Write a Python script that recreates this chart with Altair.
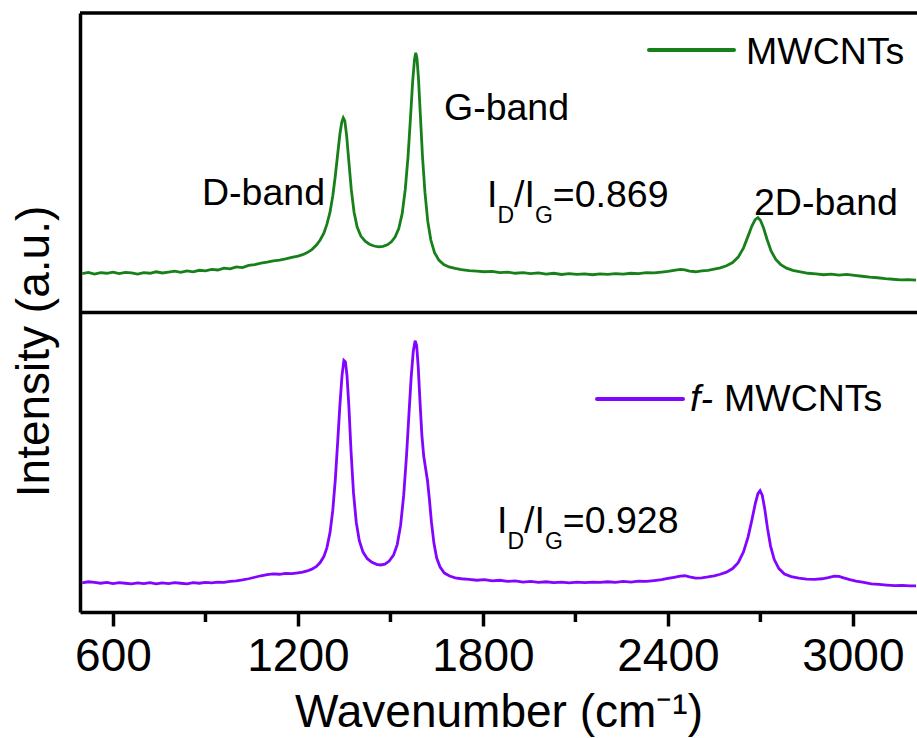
import altair as alt
import pandas as pd

FONT = "Liberation Sans"
GREEN = "#17801a"
PURPLE = "#8205ff"

# ---- data: Raman spectra (wavenumber, intensity in a.u., each panel 0..1) ----
top_wn = [500, 520, 540, 560, 580, 600, 620, 640, 660, 680,
          700, 720, 740, 760, 780, 800, 820, 840, 860, 880,
          900, 920, 940, 960, 980, 1000, 1020, 1040, 1060, 1080,
          1100, 1120, 1140, 1160, 1180, 1200, 1215, 1230, 1245, 1260,
          1272, 1284, 1294, 1304, 1313, 1321, 1329, 1336, 1342, 1347,
          1352, 1358, 1365, 1373, 1382, 1392, 1404, 1418, 1432, 1447,
          1462, 1476, 1490, 1503, 1515, 1527, 1538, 1548, 1557, 1565,
          1572, 1578, 1582, 1586, 1591, 1597, 1604, 1612, 1621, 1631,
          1643, 1657, 1673, 1690, 1710, 1730, 1755, 1780, 1805, 1830,
          1855, 1880, 1905, 1930, 1955, 1980, 2005, 2030, 2055, 2080,
          2105, 2130, 2155, 2180, 2205, 2230, 2255, 2280, 2305, 2330,
          2355, 2380, 2400, 2420, 2440, 2455, 2470, 2490, 2510, 2530,
          2550, 2570, 2590, 2610, 2628, 2645, 2660, 2672, 2683, 2692,
          2700, 2710, 2722, 2735, 2750, 2766, 2785, 2805, 2830, 2855,
          2880, 2905, 2930, 2955, 2980, 3005, 3030, 3055, 3080, 3105,
          3130, 3155, 3180, 3205]
top_int = [.130, .134, .128, .133, .131, .135, .130, .134, .132, .128,
           .133, .131, .136, .132, .135, .138, .134, .139, .136, .141,
           .139, .144, .142, .148, .146, .152, .150, .157, .160, .165,
           .168, .172, .175, .179, .184, .188, .193, .200, .210, .225,
           .242, .265, .295, .335, .390, .455, .530, .595, .635, .650,
           .640, .590, .505, .410, .335, .285, .255, .238, .228, .222,
           .219, .221, .226, .236, .252, .280, .330, .410, .520, .650,
           .770, .845, .867, .850, .780, .660, .520, .400, .305, .242,
           .200, .175, .160, .152, .147, .143, .140, .138, .136, .137,
           .133, .135, .131, .133, .130, .132, .128, .131, .127, .130,
           .127, .129, .126, .129, .127, .130, .128, .131, .130, .133,
           .132, .135, .137, .141, .144, .142, .138, .136, .139, .141,
           .145, .149, .156, .167, .185, .215, .255, .288, .310, .317,
           .308, .283, .243, .205, .177, .160, .148, .141, .136, .131,
           .129, .126, .128, .125, .127, .124, .121, .118, .116, .113,
           .111, .109, .110, .108]

bot_wn = [500, 520, 540, 560, 580, 600, 620, 640, 660, 680,
          700, 720, 740, 760, 780, 800, 820, 840, 860, 880,
          900, 920, 940, 960, 980, 1000, 1020, 1040, 1060, 1080,
          1100, 1120, 1140, 1160, 1180, 1200, 1215, 1230, 1245, 1260,
          1272, 1284, 1294, 1304, 1313, 1321, 1329, 1336, 1343, 1349,
          1354, 1359, 1365, 1372, 1380, 1389, 1399, 1411, 1425, 1440,
          1455, 1468, 1482, 1496, 1510, 1522, 1533, 1543, 1552, 1560,
          1567, 1574, 1580, 1585, 1590, 1596, 1602, 1608, 1614, 1620,
          1626, 1633, 1641, 1650, 1661, 1675, 1692, 1710, 1730, 1755,
          1780, 1805, 1830, 1855, 1880, 1905, 1930, 1955, 1980, 2005,
          2030, 2055, 2080, 2105, 2130, 2155, 2180, 2205, 2230, 2255,
          2280, 2305, 2330, 2355, 2380, 2400, 2420, 2440, 2455, 2470,
          2490, 2510, 2530, 2550, 2570, 2590, 2610, 2628, 2645, 2660,
          2672, 2683, 2692, 2699, 2706, 2714, 2723, 2733, 2745, 2760,
          2778, 2800, 2825, 2850, 2875, 2900, 2920, 2940, 2955, 2970,
          2990, 3010, 3035, 3060, 3085, 3110, 3135, 3160, 3185, 3205]
bot_int = [.097, .101, .099, .096, .099, .095, .098, .096, .094, .097,
           .095, .098, .094, .097, .095, .098, .096, .094, .098, .096,
           .099, .097, .100, .099, .102, .104, .107, .111, .116, .121,
           .125, .127, .126, .129, .128, .131, .133, .137, .143, .152,
           .165, .185, .215, .265, .340, .440, .570, .690, .790, .840,
           .835, .790, .690, .540, .400, .300, .238, .200, .178, .166,
           .159, .157, .160, .170, .190, .225, .290, .390, .520, .660,
           .780, .870, .906, .890, .820, .700, .590, .520, .480, .440,
           .380, .300, .230, .180, .150, .130, .120, .114, .111, .109,
           .106, .108, .104, .106, .102, .104, .100, .102, .099, .101,
           .098, .100, .097, .100, .098, .100, .099, .101, .099, .102,
           .100, .103, .102, .105, .108, .112, .116, .120, .121, .117,
           .113, .114, .117, .121, .126, .133, .145, .165, .200, .250,
           .305, .360, .395, .405, .390, .345, .280, .220, .175, .145,
           .127, .118, .113, .110, .109, .111, .115, .120, .119, .114,
           .108, .103, .099, .094, .092, .090, .088, .089, .087, .087]

major_ticks = [600, 1200, 1800, 2400, 3000]
minor_ticks = [900, 1500, 2100, 2700]

top_df = pd.DataFrame({"wn": top_wn, "inten": top_int})
bot_df = pd.DataFrame({"wn": bot_wn, "inten": bot_int})

# ---- layout (pixels) ----
PAD_L, PAD_T = 80, 13
W, H = 837, 599
FRAME = 3.5

xscale = alt.Scale(domain=[493, 3208], nice=False, zero=False)
yscale = alt.Scale(domain=[0, 2], nice=False, zero=False)

xaxis = alt.Axis(
    values=major_ticks, format="d", title="Wavenumber (cm⁻¹)", grid=False,
    domainColor="black", domainWidth=FRAME, tickColor="black", tickWidth=FRAME,
    tickSize=14, labelFont=FONT, labelFontSize=46, labelColor="black",
    labelPadding=8, labelFlush=False,
    titleFont=FONT, titleFontSize=46, titleFontWeight="normal", titleColor="black",
    titleBaseline="alphabetic", titleY=114,
)
yaxis = alt.Axis(
    title="Intensity (a.u.)", grid=False, ticks=False, labels=False,
    domainColor="black", domainWidth=FRAME,
    titleFont=FONT, titleFontSize=46, titleFontWeight="normal", titleColor="black",
    titleAngle=270, titleAlign="center", titleBaseline="middle",
    titleX=-46, titleY=338,
)

X = alt.X("wn:Q", scale=xscale, axis=xaxis)

top_line = alt.Chart(top_df).transform_calculate(
    y="datum.inten + 1"
).mark_line(color=GREEN, strokeWidth=2.8, clip=True).encode(
    x=X, y=alt.Y("y:Q", scale=yscale, axis=yaxis)
)
bot_line = alt.Chart(bot_df).transform_calculate(
    y="datum.inten"
).mark_line(color=PURPLE, strokeWidth=2.8, clip=True).encode(
    x=X, y=alt.Y("y:Q", scale=yscale, axis=yaxis)
)

# frame: top edge and divider between panels
frame_rules = alt.Chart(pd.DataFrame({"y": [2, 1]})).mark_rule(
    color="black", strokeWidth=FRAME
).encode(y=alt.Y("y:Q", scale=yscale, axis=yaxis))

# minor ticks
minor = alt.Chart(pd.DataFrame({"wn": minor_ticks})).mark_rule(
    color="black", strokeWidth=FRAME
).encode(x=X, y=alt.value(H), y2=alt.value(H + 10))


def txt(s, x, y, size=37.5, style="normal"):
    return alt.Chart(pd.DataFrame({"s": [s]})).mark_text(
        align="left", baseline="alphabetic", font=FONT, fontSize=size,
        fontStyle=style, color="black"
    ).encode(x=alt.value(x - PAD_L), y=alt.value(y - PAD_T), text="s:N")


def seg(x1, x2, y, color):
    return alt.Chart(pd.DataFrame({"a": [0]})).mark_rule(
        color=color, strokeWidth=4, strokeCap="round"
    ).encode(x=alt.value(x1 - PAD_L), x2=alt.value(x2 - PAD_L), y=alt.value(y - PAD_T))


def ratio(x0, base, value, sub=23):
    sb = base + 16
    return [
        txt("I", x0, base),
        txt("D", x0 + 10.4, sb, sub),
        txt("/I", x0 + 10.4 + 0.722 * sub, base),
        txt("G", x0 + 31.3 + 0.722 * sub, sb, sub),
        txt("=" + value, x0 + 31.3 + 1.5 * sub, base),
    ]


annots = [
    txt("D-band", 202, 205),
    txt("G-band", 444, 120),
    txt("2D-band", 754, 215),
    *ratio(487, 207, "0.869"),
    *ratio(497, 533, "0.928"),
    seg(649, 734, 50, GREEN),
    txt("MWCNTs", 746, 64),
    seg(597, 683, 399, PURPLE),
    txt("f-", 690, 411, style="italic"),
    txt("MWCNTs", 724, 411),
]

chart = alt.layer(top_line, bot_line, frame_rules, minor, *annots).properties(
    width=W, height=H,
    padding={"left": PAD_L, "top": PAD_T, "right": 0, "bottom": 738 - PAD_T - H},
    autosize=alt.AutoSizeParams(type="none"),
    background="white",
).configure_view(strokeWidth=0)

chart.save("out.html", embed_options={"renderer": "svg", "actions": False})
